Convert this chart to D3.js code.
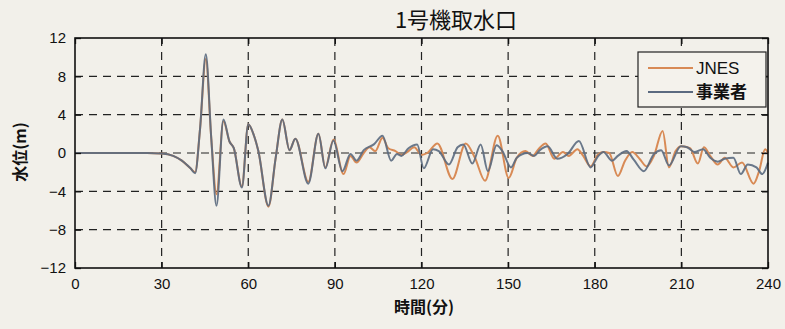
<!DOCTYPE html>
<html>
<head>
<meta charset="utf-8">
<script src="https://cdn.jsdelivr.net/npm/d3@7"></script>
<style>
  body { margin: 0; background: #f2f0ea; }
  svg { display: block; }
  .tick text { font-family: "Liberation Sans Narrow", "Liberation Sans", Arial, sans-serif; font-size: 15px; fill: #111; }
</style>
</head>
<body>
<svg id="chart" width="785" height="329"></svg>
<script>
// time (min) / water level (m)
const opTime = [0, 25, 30, 34, 37, 40, 41.6, 43.3, 45.3, 47.2, 49, 51.4, 53.5, 55, 57.8, 60, 62, 63.5, 67, 69.5,
  71.8, 74.3, 76.3, 80.8, 84.3, 86.7, 89.5, 92.6, 95.4, 97.5, 100, 103.5, 106.5, 109.5, 111.5, 113, 115.5, 118.5,
  120.8, 124, 126, 129.5, 132.5, 134.5, 137.6, 140.5, 143, 146, 148, 151, 153, 156.7, 159, 161, 163.7, 167, 170.6,
  174.5, 178.6, 181, 183, 186, 188, 191, 193.5, 197, 200.5, 203, 205.7, 209.8, 212, 214.5, 217.5, 220, 222.6, 225,
  228, 230.6, 233, 236, 238, 240];
const opLevel = [0, 0, -0.05, -0.3, -0.8, -1.6, -2.1, 2.5, 10.3, 1.5, -5.5, 3.5, 1.2, 0.5, -3.6, 3.0, 1.8, 0.2, -5.5, -0.5,
  3.5, 0.3, 1.5, -3.2, 2.0, -1.6, 1.3, -1.9, -0.1, -0.8, 0.3, 0.9, 1.8, -0.8, -0.1, -0.3, 0.5, 0.9,
  -1.6, 0.4, 0.2, -1.2, 0.6, 0.9, -1.1, 0.9, -1.9, 0.8, 0.2, -1.5, -0.5, 0.0, -0.3, 0.3, 0.7, -0.6, -0.1,
  1.25, -1.5, -0.4, 0.1, -0.8, -0.3, 0.2, -0.7, -1.9, -0.1, 0.3, -1.3, 0.7, 0.6, 0.1, 0.4, -0.5, -0.9, -0.6,
  -0.5, -2.2, -1.2, -1.5, -2.2, -1.0];

const jnesTime = [0, 25, 30, 34, 37, 40, 41.6, 43.3, 45.3, 47.2, 49, 51.4, 53.5, 55, 57.8, 60, 62, 63.5, 67, 69.5,
  71.8, 74.3, 76.3, 80.8, 84.3, 86.7, 89.5, 93, 95.4, 97.5, 100, 102, 104, 106.5, 108.5, 111, 113, 115, 117.5,
  120, 122, 125.5, 130.7, 135.3, 138.5, 142, 146.4, 150.2, 153, 156, 158.5, 160.5, 163, 166, 169, 171, 174, 176,
  178.6, 181, 183, 185, 188, 190.5, 193, 195.5, 198, 200.5, 203.5, 205.7, 208, 210, 213, 215.7, 217.8, 220, 222.6,
  225, 228, 231, 235, 237, 239, 240];
const jnesLevel = [0, 0, -0.05, -0.3, -0.8, -1.6, -2.0, 2.5, 9.8, 1.5, -4.3, 3.3, 1.2, 0.5, -3.5, 3.0, 1.8, 0.2, -5.6, -0.5,
  3.5, 0.3, 1.5, -3.0, 2.0, -1.5, 1.4, -2.2, -0.3, -1.0, 0.0, 0.6, 0.2, 1.6, 0.5, 0.2, -0.2, 0.1, 0.6,
  -0.2, 0.0, 1.0, -2.7, 1.0, -0.5, -2.9, 1.8, -2.6, -0.5, 0.2, -0.3, 0.4, 1.0, -0.6, 0.1, -0.3, 0.4, -0.3,
  -1.4, -0.2, 0.1, 0.0, -2.4, -0.8, 0.1, -0.6, -1.4, -0.3, 2.3, -1.5, 0.2, 0.7, 0.5, -1.1, 0.6, -0.3, -1.2,
  -0.5, -1.5, -1.0, -3.2, -1.8, 0.4, 0.0];

const xTicks = [0, 30, 60, 90, 120, 150, 180, 210, 240];
const yTicks = [-12, -8, -4, 0, 4, 8, 12];
const seriesNames = ["JNES", "事業者"];
const seriesColors = ["#d88a55", "#5b6a80"];

const svg = d3.select("#chart");
const margin = { top: 38, right: 17, bottom: 61, left: 75 };
const width = 785 - margin.left - margin.right;
const height = 329 - margin.top - margin.bottom;
const cjk = "'Noto Sans CJK JP', 'Noto Sans', sans-serif";

const x = d3.scaleLinear().domain([0, 240]).range([0, width]);
const y = d3.scaleLinear().domain([-12, 12]).range([height, 0]);

const g = svg.append("g").attr("transform", "translate(" + margin.left + "," + margin.top + ")");

// grid
g.append("g").selectAll("line").data(xTicks.slice(1, -1)).enter().append("line")
  .attr("x1", d => x(d)).attr("x2", d => x(d)).attr("y1", 0).attr("y2", height)
  .attr("stroke", "#222").attr("stroke-width", 1.2).attr("stroke-dasharray", "8,6");
g.append("g").selectAll("line").data(yTicks.slice(1, -1)).enter().append("line")
  .attr("y1", d => y(d)).attr("y2", d => y(d)).attr("x1", 0).attr("x2", width)
  .attr("stroke", "#222").attr("stroke-width", 1.2).attr("stroke-dasharray", "8,6");

// lines
const line = d3.line().x(d => x(d[0])).y(d => y(d[1])).curve(d3.curveMonotoneX);
const jnes = jnesTime.map((t, i) => [t, jnesLevel[i]]);
const op = opTime.map((t, i) => [t, opLevel[i]]);
g.append("path").datum(jnes).attr("d", line).attr("fill", "none")
  .attr("stroke", seriesColors[0]).attr("stroke-width", 2);
g.append("path").datum(op).attr("d", line).attr("fill", "none")
  .attr("stroke", seriesColors[1]).attr("stroke-width", 2).attr("stroke-opacity", 0.9);

// axes, ticks inward
const xAxis = d3.axisBottom(x).tickValues(xTicks).tickSizeInner(-6).tickSizeOuter(0).tickPadding(10);
const yAxis = d3.axisLeft(y).tickValues(yTicks).tickSizeInner(-6).tickSizeOuter(0).tickPadding(9);
g.append("g").attr("transform", "translate(0," + height + ")").call(xAxis)
  .call(a => a.select(".domain").remove());
g.append("g").call(yAxis).call(a => a.select(".domain").remove());
g.append("g").call(d3.axisTop(x).tickValues(xTicks).tickSizeInner(-6).tickSizeOuter(0).tickFormat(""))
  .call(a => a.select(".domain").remove());
g.append("g").attr("transform", "translate(" + width + ",0)")
  .call(d3.axisRight(y).tickValues(yTicks).tickSizeInner(-6).tickSizeOuter(0).tickFormat(""))
  .call(a => a.select(".domain").remove());
g.selectAll(".tick line").attr("stroke", "#111").attr("stroke-width", 1.3);

g.append("rect").attr("width", width).attr("height", height)
  .attr("fill", "none").attr("stroke", "#111").attr("stroke-width", 1.6);

// legend
const lg = g.append("g").attr("transform", "translate(" + (width - 130) + ",14)");
lg.append("rect").attr("width", 128).attr("height", 55).attr("fill", "#f4f2ec")
  .attr("stroke", "#222").attr("stroke-width", 1.2);
seriesNames.forEach((n, i) => {
  const yy = 16 + i * 24;
  lg.append("line").attr("x1", 10).attr("x2", 55).attr("y1", yy).attr("y2", yy)
    .attr("stroke", seriesColors[i]).attr("stroke-width", 2);
  lg.append("text").attr("x", 58).attr("y", yy + 6).text(n)
    .attr("font-family", i === 0 ? "'Liberation Sans', Arial, sans-serif" : cjk)
    .attr("font-size", 17).attr("font-weight", i === 0 ? 400 : 700).attr("fill", "#111");
});

// titles
svg.append("text").attr("x", 456).attr("y", 28).attr("text-anchor", "middle")
  .attr("font-family", cjk).attr("font-size", 22).attr("font-weight", 400).attr("fill", "#111")
  .text("1号機取水口");
svg.append("text").attr("x", 424).attr("y", 313).attr("text-anchor", "middle")
  .attr("font-family", cjk).attr("font-size", 16).attr("font-weight", 700).attr("fill", "#111")
  .text("時間(分)");
svg.append("text").attr("transform", "translate(26,152) rotate(-90)").attr("text-anchor", "middle")
  .attr("font-family", cjk).attr("font-size", 16).attr("font-weight", 700).attr("fill", "#111")
  .text("水位(m)");
</script>
</body>
</html>
